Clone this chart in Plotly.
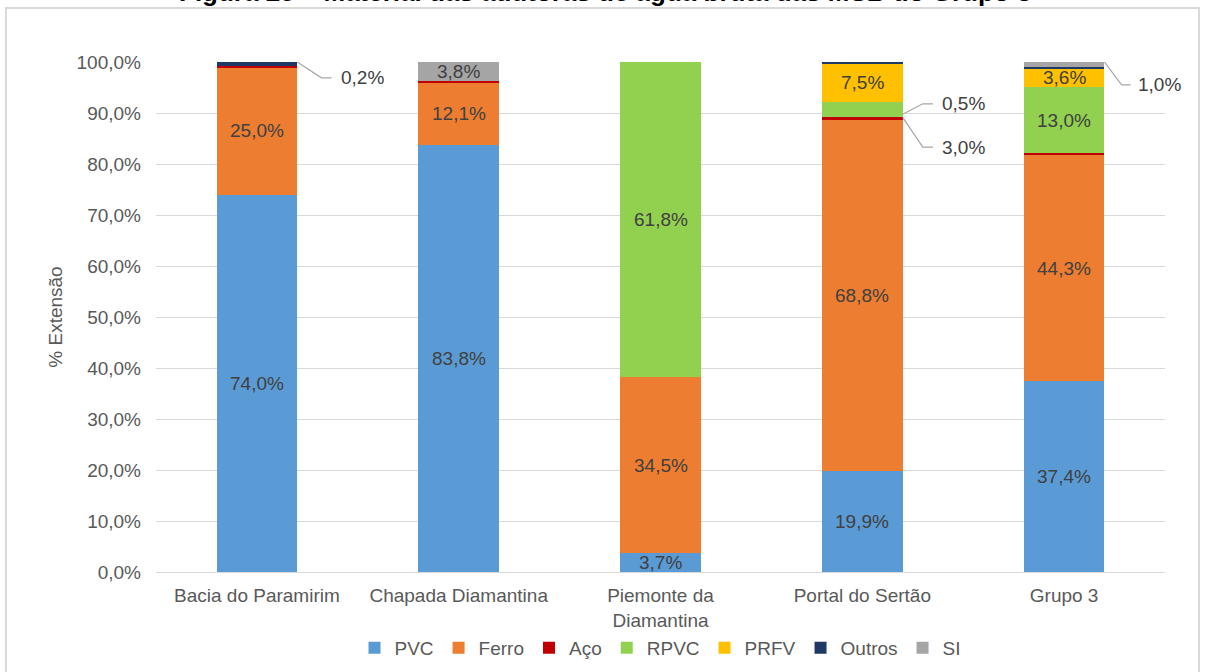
import plotly.graph_objects as go

categories = ["Bacia do Paramirim", "Chapada Diamantina", "Piemonte da<br>Diamantina", "Portal do Sertão", "Grupo 3"]
series_names = ["PVC", "Ferro", "Aço", "RPVC", "PRFV", "Outros", "SI"]
pvc = [74.0, 83.8, 3.7, 19.9, 37.4]
ferro = [25.0, 12.1, 34.5, 68.8, 44.3]
aco = [0.2, 0.3, 0.0, 0.5, 0.4]
rpvc = [0.0, 0.0, 61.8, 3.0, 13.0]
prfv = [0.0, 0.0, 0.0, 7.5, 3.6]
outros = [0.8, 0.0, 0.0, 0.3, 0.3]
si = [0.0, 3.8, 0.0, 0.0, 1.0]
y_ticks = [0, 10, 20, 30, 40, 50, 60, 70, 80, 90, 100]
y_tick_text = ["0,0%", "10,0%", "20,0%", "30,0%", "40,0%", "50,0%", "60,0%", "70,0%", "80,0%", "90,0%", "100,0%"]
title_text = "Figura 25 – Material das adutoras de água bruta das MSB do Grupo 3"

colors = ["#5B9BD5", "#ED7D31", "#C00000", "#92D050", "#FFC000", "#1F3864", "#A5A5A5"]
values = [pvc, ferro, aco, rpvc, prfv, outros, si]

FONT = "Liberation Sans, Arial, sans-serif"
FS = 19
fig = go.Figure()
for name, vals, col in zip(series_names, values, colors):
    fig.add_trace(go.Bar(x=categories, y=vals, name=name, marker=dict(color=col, line=dict(width=0)),
                         width=0.4))

def fmt(v):
    return f"{v:.1f}".replace(".", ",") + "%"

annotations = []
shapes = []
for i, cat in enumerate(categories):
    base = 0.0
    for s, vals in enumerate(values):
        v = vals[i]
        if v >= 3.5 and not (s == 3 and i == 3):
            annotations.append(dict(x=cat, y=base + v / 2, text=fmt(v), showarrow=False,
                                    font=dict(size=FS, color="#404040", family=FONT),
                                    xref="x", yref="y", yanchor="middle"))
        base += v

def cum(i, upto):
    return sum(values[k][i] for k in range(upto))

# (category index, value, anchor y on bar, label y, diag dx, horizontal end dx, label dx)
outside = [
    (0, aco[0], 100.0, 96.9, 0.12, 0.17, 0.205),
    (3, aco[3], cum(3, 3) + aco[3] / 2 + 0.3, 91.8, 0.10, 0.15, 0.185),
    (3, rpvc[3], cum(3, 3) + aco[3] / 2 - 0.3, 83.3, 0.10, 0.15, 0.185),
    (4, si[4], 100.0, 95.5, 0.085, 0.13, 0.155),
]
for i, v, ya, yl, d1, d2, d3 in outside:
    xe = i + 0.2
    shapes.append(dict(type="path", xref="x", yref="y",
                       path=f"M {xe},{ya} L {xe + d1},{yl} L {xe + d2},{yl}",
                       line=dict(color="#A6A6A6", width=1.2)))
    annotations.append(dict(x=xe + d3, y=yl, text=fmt(v), showarrow=False, xanchor="left",
                            font=dict(size=FS, color="#404040", family=FONT), xref="x", yref="y"))

annotations.append(dict(x=0.445, y=1.104, xref="paper", yref="paper", text="<b>" + title_text + "</b>",
                        showarrow=False, yanchor="bottom", xanchor="center",
                        font=dict(size=26, color="#000000", family=FONT)))

shapes.append(dict(type="rect", xref="paper", yref="paper", x0=-0.1487, x1=1.0337, y0=-0.25, y1=1.1059,
                   line=dict(color="#D9D9D9", width=2), layer="below"))

fig.update_layout(
    width=1205, height=672,
    margin=dict(l=156, r=40, t=62, b=100, autoexpand=False),
    paper_bgcolor="white", plot_bgcolor="white",
    barmode="stack", bargap=0.6,
    font=dict(family=FONT, size=FS, color="#595959"),
    showlegend=True,
    legend=dict(orientation="h", x=0.5, xanchor="center", y=0.036, yref="container", yanchor="middle",
                font=dict(size=FS, color="#595959"), itemwidth=30, tracegroupgap=0,
                traceorder="normal"),
    annotations=annotations,
    shapes=shapes,
)
fig.update_yaxes(range=[0, 100], tickvals=y_ticks, ticktext=y_tick_text,
                 showgrid=True, gridcolor="#D9D9D9", gridwidth=1, zeroline=False,
                 title=dict(text="% Extensão", font=dict(size=FS, color="#595959"), standoff=8),
                 tickfont=dict(size=FS, color="#595959"), ticks="", showline=False,
                 ticklabelstandoff=14)
fig.update_xaxes(range=[-0.5, 4.5], showline=True, linecolor="#D9D9D9", linewidth=1, ticks="",
                 tickfont=dict(size=FS, color="#595959"), ticklabelstandoff=6)

fig.write_html("out.html")
